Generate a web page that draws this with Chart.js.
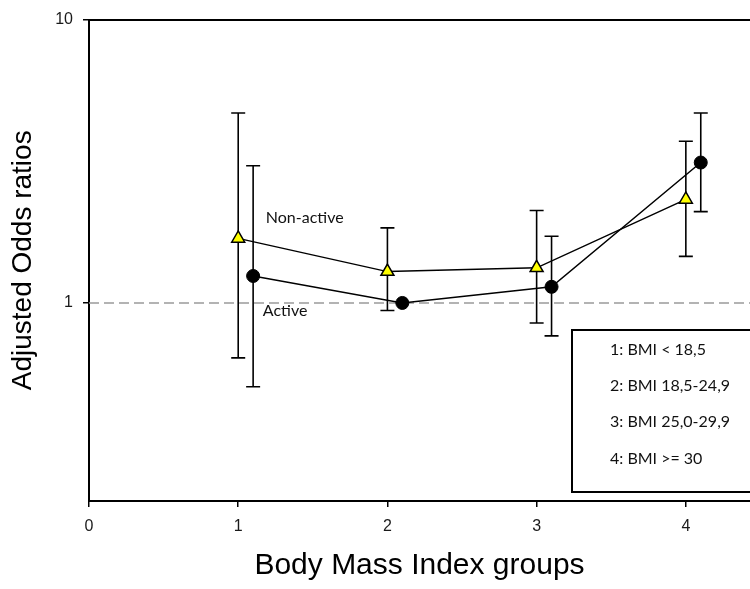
<!DOCTYPE html>
<html>
<head>
<meta charset="utf-8">
<script src="https://cdn.jsdelivr.net/npm/chart.js@4/dist/chart.umd.min.js"></script>
<style>
  html, body { margin: 0; padding: 0; background: #fff; overflow: hidden; }
  canvas { display: block; }
</style>
</head>
<body>
<canvas id="c" width="750" height="589" style="width:750px;height:589px"></canvas>
<script>
// ---- data ----
const xNonActive = [1, 2, 3, 4];
const xActive = [1.1, 2.1, 3.1, 4.1];
const nonActiveOR = [1.69, 1.29, 1.33, 2.32];
const nonActiveLow = [0.64, 0.94, 0.85, 1.46];
const nonActiveHigh = [4.68, 1.84, 2.12, 3.72];
const activeOR = [1.245, 1.0, 1.14, 3.13];
const activeLow = [0.506, null, 0.765, 2.10];
const activeHigh = [3.05, null, 1.72, 4.68];
const xMin = 0, xMax = 4.43;
const referenceOR = [1, 1];
const referenceX = [xMin, xMax];
const xTickValues = [0, 1, 2, 3, 4];
const yTickValues = [1, 10];
const yTickLabels = ['1', '10'];
const seriesLabels = ['Non-active', 'Active'];
const bmiLegend = ['1: BMI < 18,5', '2: BMI 18,5-24,9', '3: BMI 25,0-29,9', '4: BMI >= 30'];
const xTitle = 'Body Mass Index groups';
const yTitle = 'Adjusted Odds ratios';

function pts(xs, ys) { return xs.map((x, i) => ({ x: x, y: ys[i] })); }
function errPts(xs, lo, hi) {
  const out = [];
  xs.forEach((x, i) => {
    if (lo[i] == null || hi[i] == null) return;
    out.push({ x: x, y: lo[i] }, { x: x, y: hi[i] }, { x: x, y: null });
  });
  return out;
}

const AX = 'Liberation Sans, Arial, sans-serif';
const TXT = 'Lato, "Open Sans", sans-serif';

const textPlugin = {
  id: 'texts',
  afterDatasetsDraw(chart) {
    const ctx = chart.ctx;
    const xs = chart.scales.x, ys = chart.scales.y;
    ctx.save();
    ctx.fillStyle = '#111';
    ctx.font = '16px ' + TXT;
    ctx.textAlign = 'left';
    ctx.textBaseline = 'middle';
    ctx.fillText(seriesLabels[0], xs.getPixelForValue(1.185), ys.getPixelForValue(2.0));
    ctx.fillText(seriesLabels[1], xs.getPixelForValue(1.165), ys.getPixelForValue(0.935));
    // BMI key box (runs off the right edge, as in the reference)
    ctx.strokeStyle = '#000';
    ctx.lineWidth = 2;
    ctx.fillStyle = '#fff';
    ctx.fillRect(572, 330, 250, 162);
    ctx.strokeRect(572, 330, 250, 162);
    ctx.fillStyle = '#111';
    const ly = [350, 386, 422, 459];
    bmiLegend.forEach((t, i) => ctx.fillText(t, 610, ly[i]));
    ctx.restore();
  }
};

new Chart(document.getElementById('c'), {
  type: 'scatter',
  data: {
    datasets: [
      {
        label: 'ref', data: pts(referenceX, referenceOR), showLine: true,
        borderColor: '#9a9a9a', borderWidth: 1.5, borderDash: [10, 5],
        pointRadius: 0, order: 6
      },
      {
        label: 'errNA', data: errPts(xNonActive, nonActiveLow, nonActiveHigh), showLine: true, spanGaps: false,
        borderColor: '#000', borderWidth: 1.6, pointStyle: 'line', pointRadius: 7,
        pointBorderColor: '#000', pointBorderWidth: 1.6, order: 4
      },
      {
        label: 'errA', data: errPts(xActive, activeLow, activeHigh), showLine: true, spanGaps: false,
        borderColor: '#000', borderWidth: 1.6, pointStyle: 'line', pointRadius: 7,
        pointBorderColor: '#000', pointBorderWidth: 1.6, order: 5
      },
      {
        label: seriesLabels[0], data: pts(xNonActive, nonActiveOR), showLine: true,
        borderColor: '#000', borderWidth: 1.5, pointStyle: 'triangle', pointRadius: 7.5,
        pointBackgroundColor: '#ffff00', pointBorderColor: '#000', pointBorderWidth: 1.5, order: 1
      },
      {
        label: seriesLabels[1], data: pts(xActive, activeOR), showLine: true,
        borderColor: '#000', borderWidth: 1.5, pointStyle: 'circle', pointRadius: 6.5,
        pointBackgroundColor: '#000', pointBorderColor: '#000', pointBorderWidth: 1, order: 2
      }
    ]
  },
  options: {
    responsive: false,
    animation: false,
    devicePixelRatio: 1,
    layout: { autoPadding: false, padding: { left: 0, right: 0, top: 16, bottom: 0 } },
    plugins: { legend: { display: false }, tooltip: { enabled: false } },
    scales: {
      x: {
        type: 'linear', position: 'bottom', min: xMin, max: xMax,
        afterBuildTicks: s => { s.ticks = xTickValues.map(v => ({ value: v })); },
        ticks: { color: '#1a1a1a', font: { family: AX, size: 16 }, padding: 10, callback: v => String(v) },
        grid: { display: true, drawOnChartArea: false, drawTicks: true, tickLength: 6, color: '#000', lineWidth: 1.5 },
        border: { display: true, color: '#000', width: 2 },
        title: { display: true, text: xTitle, color: '#000', font: { family: AX, size: 30 }, padding: { top: 0, bottom: 5 } },
        afterFit: s => { s.height = 88; }
      },
      x2: {
        type: 'linear', position: 'top', min: xMin, max: xMax,
        ticks: { display: false },
        grid: { display: false, drawTicks: false },
        border: { display: true, color: '#000', width: 2 },
        afterFit: s => { s.height = 0; }
      },
      y: {
        type: 'logarithmic', min: 0.2, max: 10,
        afterBuildTicks: s => { s.ticks = yTickValues.map(v => ({ value: v })); },
        ticks: { color: '#1a1a1a', font: { family: AX, size: 16 }, padding: 10,
          callback: (v, i) => yTickLabels[i] },
        grid: { display: true, drawOnChartArea: false, drawTicks: true, tickLength: 6, color: '#000', lineWidth: 1.5 },
        border: { display: true, color: '#000', width: 2 },
        title: { display: true, text: yTitle, color: '#000', font: { family: AX, size: 28 }, padding: { top: 6, bottom: 0 } },
        afterFit: s => { s.width = 89; }
      }
    }
  },
  plugins: [textPlugin]
});
</script>
</body>
</html>
